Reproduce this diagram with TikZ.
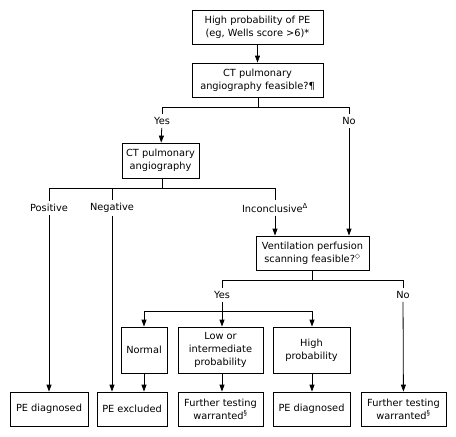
\documentclass[tikz,border=0pt]{standalone}
\usepackage{fontspec}
\setmainfont{DejaVu Sans}
\usepackage{tikz}
\usetikzlibrary{shapes,arrows.meta,positioning,calc}

\tikzset{
    box/.style={draw=black, line width=0.8pt, align=center, inner sep=1pt,
        minimum height=34pt},
    lbl/.style={inner sep=3pt},
    flow/.style={line width=0.8pt},
    >={Triangle[width=5pt,length=7pt]}
}

\begin{document}
\begin{tikzpicture}[x=1pt, y=-1pt, font=\fontsize{9.8}{13}\selectfont]
    \useasboundingbox (0,0) rectangle (456,437);

    % Top of the chart
    \node[box, minimum width=131pt] (prob) at (257.5,27) {High probability of PE\\(eg, Wells score >6)*};
    \node[box, minimum width=131pt] (ctok) at (257.5,80) {CT pulmonary\\angiography feasible?¶};
    \node[box, minimum width=77pt, minimum height=35pt] (ct) at (160.5,160.5) {CT pulmonary\\angiography};
    \node[box, minimum width=113pt] (vqok) at (312.5,253) {Ventilation perfusion\\scanning feasible?\textsuperscript{◇}};

    % Scan results
    \node[box, minimum width=46pt, minimum height=46pt] (normal) at (144,350) {Normal};
    \node[box, minimum width=85pt, minimum height=46pt] (lowint) at (220.5,350) {Low or\\intermediate\\probability};
    \node[box, minimum width=77pt, minimum height=46pt] (highp) at (311.5,350) {High\\probability};

    % Outcomes
    \node[box, minimum width=78pt] (diag1) at (49,409) {PE diagnosed};
    \node[box, minimum width=70pt] (excl) at (132,409) {PE excluded};
    \node[box, minimum width=85pt] (test1) at (220.5,409) {Further testing\\warranted\textsuperscript{§}};
    \node[box, minimum width=77pt] (diag2) at (311.5,409) {PE diagnosed};
    \node[box, minimum width=85pt] (test2) at (403.5,409) {Further testing\\warranted\textsuperscript{§}};

    % Branch labels
    \node[lbl] (yes1) at (162,121) {Yes};
    \node[lbl] (no1) at (349,121) {No};
    \node[lbl] (pos) at (49,208) {Positive};
    \node[lbl] (neg) at (112,208) {Negative};
    \node[lbl] (inc) at (275,208) {Inconclusive\textsuperscript{Δ}};
    \node[lbl] (yes2) at (222,295) {Yes};
    \node[lbl] (no2) at (403,295) {No};

    % Split coordinates
    \coordinate (s1) at (258,107);
    \coordinate (s2) at (162,188);
    \coordinate (s3) at (312,280);
    \coordinate (s4) at (222,311);

    % First question
    \draw[flow, ->] (prob) -- (ctok);
    \draw[flow] (ctok.south -| s1) -- (s1);
    \draw[flow] (s1 -| yes1) -- (s1 -| no1);
    \draw[flow] (s1 -| yes1) -- (yes1);
    \draw[flow, ->] (yes1) -- (ct);
    \draw[flow] (s1 -| no1) -- (no1);
    \draw[flow, ->] (no1) -- (vqok.north -| no1);

    % CT results
    \draw[flow] (ct.south -| s2) -- (s2);
    \draw[flow] (s2 -| pos) -- (s2 -| inc);
    \foreach \n in {pos,neg,inc}
        \draw[flow] (s2 -| \n) -- (\n);
    \draw[flow, ->] (pos) -- (diag1);
    \draw[flow, ->] (neg) -- (excl.north -| neg);
    \draw[flow, ->] (inc) -- (vqok.north -| inc);

    % Second question
    \draw[flow] (vqok.south -| s3) -- (s3);
    \draw[flow] (s3 -| yes2) -- (s3 -| no2);
    \draw[flow] (s3 -| yes2) -- (yes2);
    \draw[flow] (s3 -| no2) -- (no2);
    \draw[flow, ->] (no2) -- (test2);
    \draw[flow] (yes2) -- (s4);
    \draw[flow] (s4 -| normal) -- (s4 -| s3);
    \draw[flow, ->] (s4 -| normal) -- (normal);
    \draw[flow, ->] (s4) -- (lowint.north -| s4);
    \draw[flow, ->] (s4 -| s3) -- (highp.north -| s3);

    % Scan results to outcomes
    \draw[flow, ->] (normal.south) -- (excl.north -| normal.south);
    \draw[flow, ->] (lowint.south -| s4) -- (test1.north -| s4);
    \draw[flow, ->] (highp.south -| s3) -- (diag2.north -| s3);
\end{tikzpicture}
\end{document}
